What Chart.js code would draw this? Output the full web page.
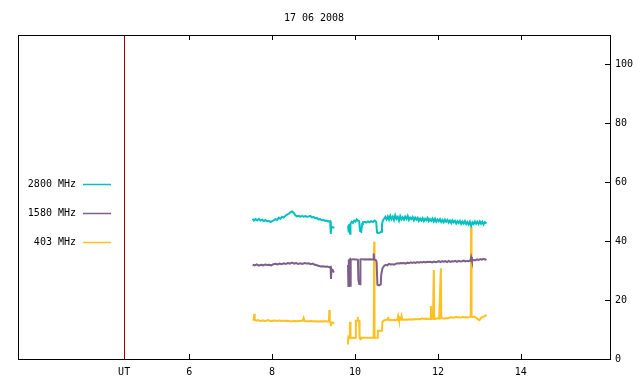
<!DOCTYPE html>
<html>
<head>
<meta charset="utf-8">
<script src="https://cdn.jsdelivr.net/npm/chart.js@4.4.1/dist/chart.umd.min.js"></script>
<style>
  html, body { margin: 0; padding: 0; background: #fff; }
</style>
</head>
<body>
<canvas id="chart" width="640" height="384"></canvas>
<script>
// chart texts and axes
const chartTitle = '17 06 2008';
const xTicks = [6, 8, 10, 12, 14];
const utHour = 4.43; // red marker, labelled UT
const yTicks = [0, 20, 40, 60, 80, 100];
const seriesLabels = ['2800 MHz', '1580 MHz', '403 MHz'];
const seriesColors = ['#00c0c0', '#7d5f89', '#ffc020'];

// 2800 MHz (hours UT / value), null = gap in the record
const t2800 = [7.53, 7.56, 7.60, 7.64, 7.68, 7.72, 7.76, 7.80, 7.84, 7.88, 7.92, 7.96, 8.00, 8.04, 8.08, 8.12, 8.16, 8.20, 8.24, 8.28,
  8.32, 8.36, 8.40, 8.44, 8.48, 8.52, 8.56, 8.60, 8.64, 8.68, 8.72, 8.76, 8.80, 8.84, 8.88, 8.92, 8.96, 9.00, 9.04, 9.08,
  9.12, 9.16, 9.20, 9.24, 9.28, 9.32, 9.36, 9.40, 9.41, 9.42, 9.43, 9.46, 9.50, 9.65,
  9.83, 9.85, 9.86, 9.88, 9.89, 9.92, 9.95, 9.98, 10.01, 10.04, 10.07, 10.10, 10.12, 10.15, 10.17, 10.19, 10.23, 10.27, 10.31, 10.35,
  10.39, 10.43, 10.47, 10.51, 10.53, 10.56, 10.60, 10.63, 10.65, 10.67, 10.70, 10.73, 10.76, 10.79, 10.82, 10.85, 10.88, 10.91, 10.94, 10.97,
  11.00, 11.03, 11.06, 11.09, 11.12, 11.15, 11.18, 11.21, 11.24, 11.27, 11.30, 11.33, 11.36, 11.39, 11.42, 11.45, 11.48, 11.51, 11.54, 11.57,
  11.60, 11.63, 11.66, 11.69, 11.72, 11.75, 11.78, 11.81, 11.84, 11.87, 11.90, 11.93, 11.96, 11.99, 12.02, 12.05, 12.08, 12.11, 12.14, 12.17,
  12.20, 12.23, 12.26, 12.29, 12.32, 12.35, 12.38, 12.41, 12.44, 12.47, 12.50, 12.53, 12.56, 12.59, 12.62, 12.65, 12.68, 12.71, 12.74, 12.77,
  12.80, 12.83, 12.86, 12.89, 12.92, 12.95, 12.98, 13.01, 13.04, 13.07, 13.10, 13.13, 13.17];
const v2800 = [47.6, 47.0, 47.5, 47.1, 47.6, 47.0, 47.3, 46.8, 47.2, 46.7, 46.9, 46.5, 46.8, 47.1, 47.5, 47.2, 48.0, 47.6, 48.3, 48.0,
  48.6, 49.0, 49.3, 49.8, 50.1, 49.6, 48.8, 48.4, 48.6, 48.3, 48.5, 48.3, 48.5, 48.3, 48.4, 48.6, 48.1, 48.2, 47.8, 47.9,
  47.4, 47.5, 47.1, 47.2, 46.9, 47.0, 46.7, 46.8, 45.3, 42.5, 45.0, 44.8, 44.5, null,
  45.3, 43.0, 45.8, 42.5, 46.0, 46.6, 46.2, 47.0, 46.6, 47.4, 47.0, 46.8, 43.5, 43.2, 45.8, 46.4, 46.6, 46.3, 46.7, 46.4,
  46.8, 46.5, 47.0, 46.6, 43.0, 42.7, 42.9, 43.2, 45.6, 47.0, 47.6, 48.2, 47.4, 48.4, 47.3, 48.6, 47.5, 48.3, 47.2, 48.8,
  47.6, 48.2, 47.0, 48.5, 47.4, 48.1, 47.3, 48.3, 47.6, 48.6, 47.2, 48.0, 47.5, 48.2, 47.1, 48.0, 47.3, 47.9, 46.9, 47.7,
  47.0, 47.8, 46.8, 47.6, 47.1, 47.9, 46.8, 47.5, 46.9, 47.7, 46.7, 47.6, 46.6, 47.4, 46.8, 47.5, 46.5, 47.2, 46.4, 47.3,
  46.6, 47.2, 46.3, 47.0, 46.2, 47.1, 46.4, 46.9, 46.0, 46.8, 46.2, 46.9, 45.9, 46.7, 46.0, 46.8, 45.8, 46.5, 45.7, 46.6,
  45.2, 46.4, 45.8, 46.7, 45.9, 46.6, 45.8, 46.7, 45.9, 46.6, 45.7, 46.5, 46.0];

// 1580 MHz
const t1580 = [7.53, 7.58, 7.63, 7.68, 7.73, 7.78, 7.83, 7.88, 7.93, 7.98, 8.03, 8.08, 8.13, 8.18, 8.23, 8.28, 8.33, 8.38, 8.43, 8.48,
  8.53, 8.58, 8.63, 8.68, 8.73, 8.78, 8.83, 8.88, 8.93, 8.98, 9.03, 9.08, 9.13, 9.18, 9.23, 9.28, 9.33, 9.38, 9.41, 9.42,
  9.43, 9.46, 9.48, 9.50, 9.65,
  9.83, 9.84, 9.85, 9.86, 9.87, 9.88, 9.89, 9.90, 9.93, 9.96, 10.00, 10.04, 10.07, 10.08, 10.10, 10.12, 10.13, 10.17, 10.20, 10.25,
  10.30, 10.35, 10.40, 10.44, 10.45, 10.46, 10.50, 10.52, 10.54, 10.58, 10.62, 10.63, 10.66, 10.70, 10.74, 10.78, 10.82, 10.86, 10.90, 10.94,
  10.98, 11.02, 11.06, 11.10, 11.14, 11.18, 11.22, 11.26, 11.30, 11.34, 11.38, 11.42, 11.46, 11.50, 11.54, 11.58, 11.62, 11.66, 11.70, 11.74,
  11.78, 11.82, 11.86, 11.90, 11.94, 11.98, 12.02, 12.06, 12.10, 12.14, 12.18, 12.22, 12.26, 12.30, 12.34, 12.38, 12.42, 12.46, 12.50, 12.54,
  12.58, 12.62, 12.66, 12.70, 12.74, 12.78, 12.80, 12.82, 12.86, 12.90, 12.94, 12.98, 13.02, 13.06, 13.10, 13.14, 13.17];
const v1580 = [32.0, 31.8, 32.1, 31.7, 32.0, 31.8, 32.1, 31.9, 32.0, 31.8, 32.2, 32.3, 32.1, 32.4, 32.2, 32.5, 32.3, 32.6, 32.4, 32.7,
  32.4, 32.6, 32.3, 32.5, 32.3, 32.6, 32.4, 32.5, 32.2, 32.4, 32.0, 31.8, 31.6, 31.4, 31.5, 31.3, 31.4, 31.2, 31.3, 27.2,
  29.8, 30.2, 29.6, 29.5, null,
  31.9, 24.8, 33.8, 25.0, 33.8, 33.9, 24.5, 33.8, 33.8, 33.9, 33.8, 33.8, 33.7, 27.0, 25.5, 25.4, 33.8, 33.9, 33.8, 33.9,
  33.8, 33.9, 33.8, 33.8, 35.8, 33.8, 33.6, 33.0, 25.2, 25.0, 25.3, 28.5, 30.7, 31.6, 32.0, 31.8, 32.3, 32.1, 32.2, 32.0,
  32.3, 32.5, 32.4, 32.6, 32.5, 32.6, 32.4, 32.7, 32.5, 32.8, 32.6, 32.8, 32.6, 32.9, 32.7, 32.9, 32.8, 33.0, 32.8, 33.0,
  32.9, 33.0, 32.8, 33.1, 32.9, 33.0, 33.2, 32.9, 33.2, 33.0, 33.2, 32.9, 33.3, 33.0, 33.2, 33.1, 33.3, 33.0, 33.3, 33.1,
  33.2, 33.4, 33.1, 33.3, 33.2, 33.4, 34.6, 33.4, 33.6, 33.5, 33.8, 33.6, 33.9, 33.7, 34.0, 33.7, 33.9];

// 403 MHz
const t403 = [7.53, 7.56, 7.57, 7.58, 7.62, 7.66, 7.70, 7.74, 7.78, 7.82, 7.86, 7.90, 7.94, 7.98, 8.02, 8.06, 8.10, 8.14, 8.18, 8.22,
  8.26, 8.30, 8.34, 8.38, 8.42, 8.46, 8.50, 8.54, 8.58, 8.62, 8.66, 8.70, 8.74, 8.76, 8.78, 8.82, 8.86, 8.90, 8.94, 8.98,
  9.02, 9.06, 9.10, 9.14, 9.18, 9.22, 9.26, 9.30, 9.34, 9.37, 9.38, 9.39, 9.41, 9.42, 9.43, 9.46, 9.50, 9.65,
  9.82, 9.83, 9.84, 9.87, 9.88, 9.89, 9.93, 9.97, 10.01, 10.02, 10.05, 10.06, 10.07, 10.10, 10.11, 10.13, 10.14, 10.20, 10.26, 10.32,
  10.38, 10.45, 10.46, 10.47, 10.54, 10.55, 10.65, 10.66, 10.69, 10.72, 10.76, 10.80, 10.82, 10.86, 10.90, 10.94, 10.98, 11.02, 11.04, 11.06,
  11.10, 11.12, 11.14, 11.18, 11.22, 11.26, 11.30, 11.34, 11.38, 11.42, 11.46, 11.50, 11.54, 11.58, 11.62, 11.66, 11.70, 11.74, 11.78, 11.82,
  11.83, 11.84, 11.88, 11.90, 11.91, 11.95, 11.99, 12.03, 12.07, 12.08, 12.12, 12.16, 12.20, 12.24, 12.28, 12.32, 12.36, 12.40, 12.44, 12.48,
  12.52, 12.56, 12.60, 12.64, 12.68, 12.72, 12.76, 12.79, 12.80, 12.81, 12.84, 12.88, 12.92, 12.96, 13.00, 13.03, 13.06, 13.10, 13.14, 13.17];
const v403 = [13.2, 13.4, 15.3, 13.3, 13.0, 13.2, 13.0, 12.9, 13.1, 12.9, 13.0, 13.2, 13.0, 12.8, 13.0, 13.1, 12.9, 13.0, 13.1, 12.9,
  13.0, 13.0, 12.9, 13.0, 12.8, 12.8, 12.8, 12.9, 12.8, 12.8, 13.0, 12.9, 13.1, 13.9, 12.9, 12.8, 12.8, 12.8, 12.9, 12.8,
  12.8, 12.7, 12.8, 12.7, 12.8, 12.7, 12.8, 12.8, 12.7, 12.8, 16.6, 12.6, 12.5, 11.2, 12.3, 12.4, 12.2, null,
  5.2, 6.0, 7.5, 7.2, 12.6, 7.2, 7.2, 7.1, 7.2, 13.0, 13.0, 14.3, 13.0, 13.0, 7.2, 6.7, 7.2, 7.2, 7.2, 7.2,
  7.2, 7.2, 39.8, 7.2, 7.2, 9.6, 9.6, 12.6, 13.0, 13.2, 13.2, 13.9, 13.2, 13.3, 13.2, 13.3, 13.2, 13.3, 14.6, 13.3,
  13.3, 14.6, 13.4, 13.3, 13.4, 13.3, 13.5, 13.4, 13.5, 13.4, 13.6, 13.5, 13.6, 13.5, 13.8, 13.6, 13.7, 13.5, 13.7, 13.6,
  18.0, 13.6, 13.7, 30.2, 13.6, 13.7, 13.8, 13.7, 30.8, 13.8, 13.8, 13.7, 13.9, 13.8, 14.0, 14.2, 14.0, 14.1, 14.3, 14.1,
  14.2, 14.0, 14.3, 14.1, 14.2, 14.0, 14.3, 14.4, 44.8, 14.5, 14.2, 14.4, 14.0, 13.5, 13.2, 13.8, 14.2, 14.3, 14.6, 15.1];

const font = { family: '"DejaVu Sans Mono", monospace', size: 10 };
const fontCss = '10px "DejaVu Sans Mono", monospace';

function points(t, v) {
  return t.map((x, i) => ({ x: x, y: v[i] }));
}

// frame, inward ticks, UT marker, title and legend (gnuplot style)
const framePlugin = {
  id: 'frame',
  afterDatasetsDraw(chart) {
    const ctx = chart.ctx;
    const a = chart.chartArea;
    const xs = chart.scales.x;
    const ys = chart.scales.y;
    ctx.save();

    // UT marker line
    const ux = Math.round(xs.getPixelForValue(utHour)) + 0.5;
    ctx.strokeStyle = '#9b0000';
    ctx.lineWidth = 1;
    ctx.beginPath();
    ctx.moveTo(ux, a.top);
    ctx.lineTo(ux, a.bottom);
    ctx.stroke();

    // border
    ctx.strokeStyle = '#000';
    ctx.strokeRect(Math.round(a.left) + 0.5, Math.round(a.top) + 0.5,
      Math.round(a.right - a.left), Math.round(a.bottom - a.top));

    // ticks, pointing inwards
    ctx.beginPath();
    xTicks.forEach(v => {
      const px = Math.round(xs.getPixelForValue(v)) + 0.5;
      ctx.moveTo(px, a.bottom);
      ctx.lineTo(px, a.bottom - 5);
      ctx.moveTo(px, a.top);
      ctx.lineTo(px, a.top + 5);
    });
    yTicks.forEach(v => {
      const py = Math.round(ys.getPixelForValue(v)) + 0.5;
      ctx.moveTo(a.right, py);
      ctx.lineTo(a.right - 5, py);
    });
    ctx.stroke();

    // title
    ctx.fillStyle = '#000';
    ctx.font = fontCss;
    ctx.textAlign = 'center';
    ctx.textBaseline = 'middle';
    ctx.fillText(chartTitle, (a.left + a.right) / 2, 18);

    // legend
    const legendY = [184, 213, 242];
    ctx.textAlign = 'right';
    seriesLabels.forEach((lab, i) => {
      ctx.fillStyle = '#000';
      ctx.fillText(lab, 76, legendY[i]);
      ctx.strokeStyle = seriesColors[i];
      ctx.lineWidth = 1.5;
      ctx.beginPath();
      ctx.moveTo(83, legendY[i] + 0.5);
      ctx.lineTo(111, legendY[i] + 0.5);
      ctx.stroke();
    });
    ctx.restore();
  }
};

const datasets = [
  points(t2800, v2800),
  points(t1580, v1580),
  points(t403, v403)
].map((d, i) => ({
  label: seriesLabels[i],
  data: d,
  borderColor: seriesColors[i],
  borderWidth: 2,
  pointRadius: 0,
  tension: 0,
  spanGaps: false,
  fill: false
}));

new Chart(document.getElementById('chart').getContext('2d'), {
  type: 'line',
  data: { datasets: datasets },
  options: {
    responsive: false,
    animation: false,
    events: [],
    layout: { padding: { left: 18, top: 35, right: 0, bottom: 0 } },
    plugins: {
      legend: { display: false },
      title: { display: false },
      tooltip: { enabled: false }
    },
    scales: {
      x: {
        type: 'linear',
        position: 'bottom',
        min: 1.87,
        max: 16.15,
        grid: { display: false, drawTicks: false },
        border: { display: false },
        afterBuildTicks: s => { s.ticks = [utHour].concat(xTicks).map(v => ({ value: v })); },
        afterFit: s => { s.height = 25; },
        ticks: {
          autoSkip: false,
          maxRotation: 0,
          padding: 7,
          color: '#000',
          font: font,
          callback: v => (v === utHour ? 'UT' : v)
        }
      },
      y: {
        type: 'linear',
        position: 'right',
        min: 0,
        max: 110,
        grid: { display: false, drawTicks: false },
        border: { display: false },
        afterBuildTicks: s => { s.ticks = yTicks.map(v => ({ value: v })); },
        afterFit: s => { s.width = 30; },
        ticks: {
          padding: 5,
          color: '#000',
          font: font
        }
      }
    }
  },
  plugins: [framePlugin]
});
</script>
</body>
</html>
